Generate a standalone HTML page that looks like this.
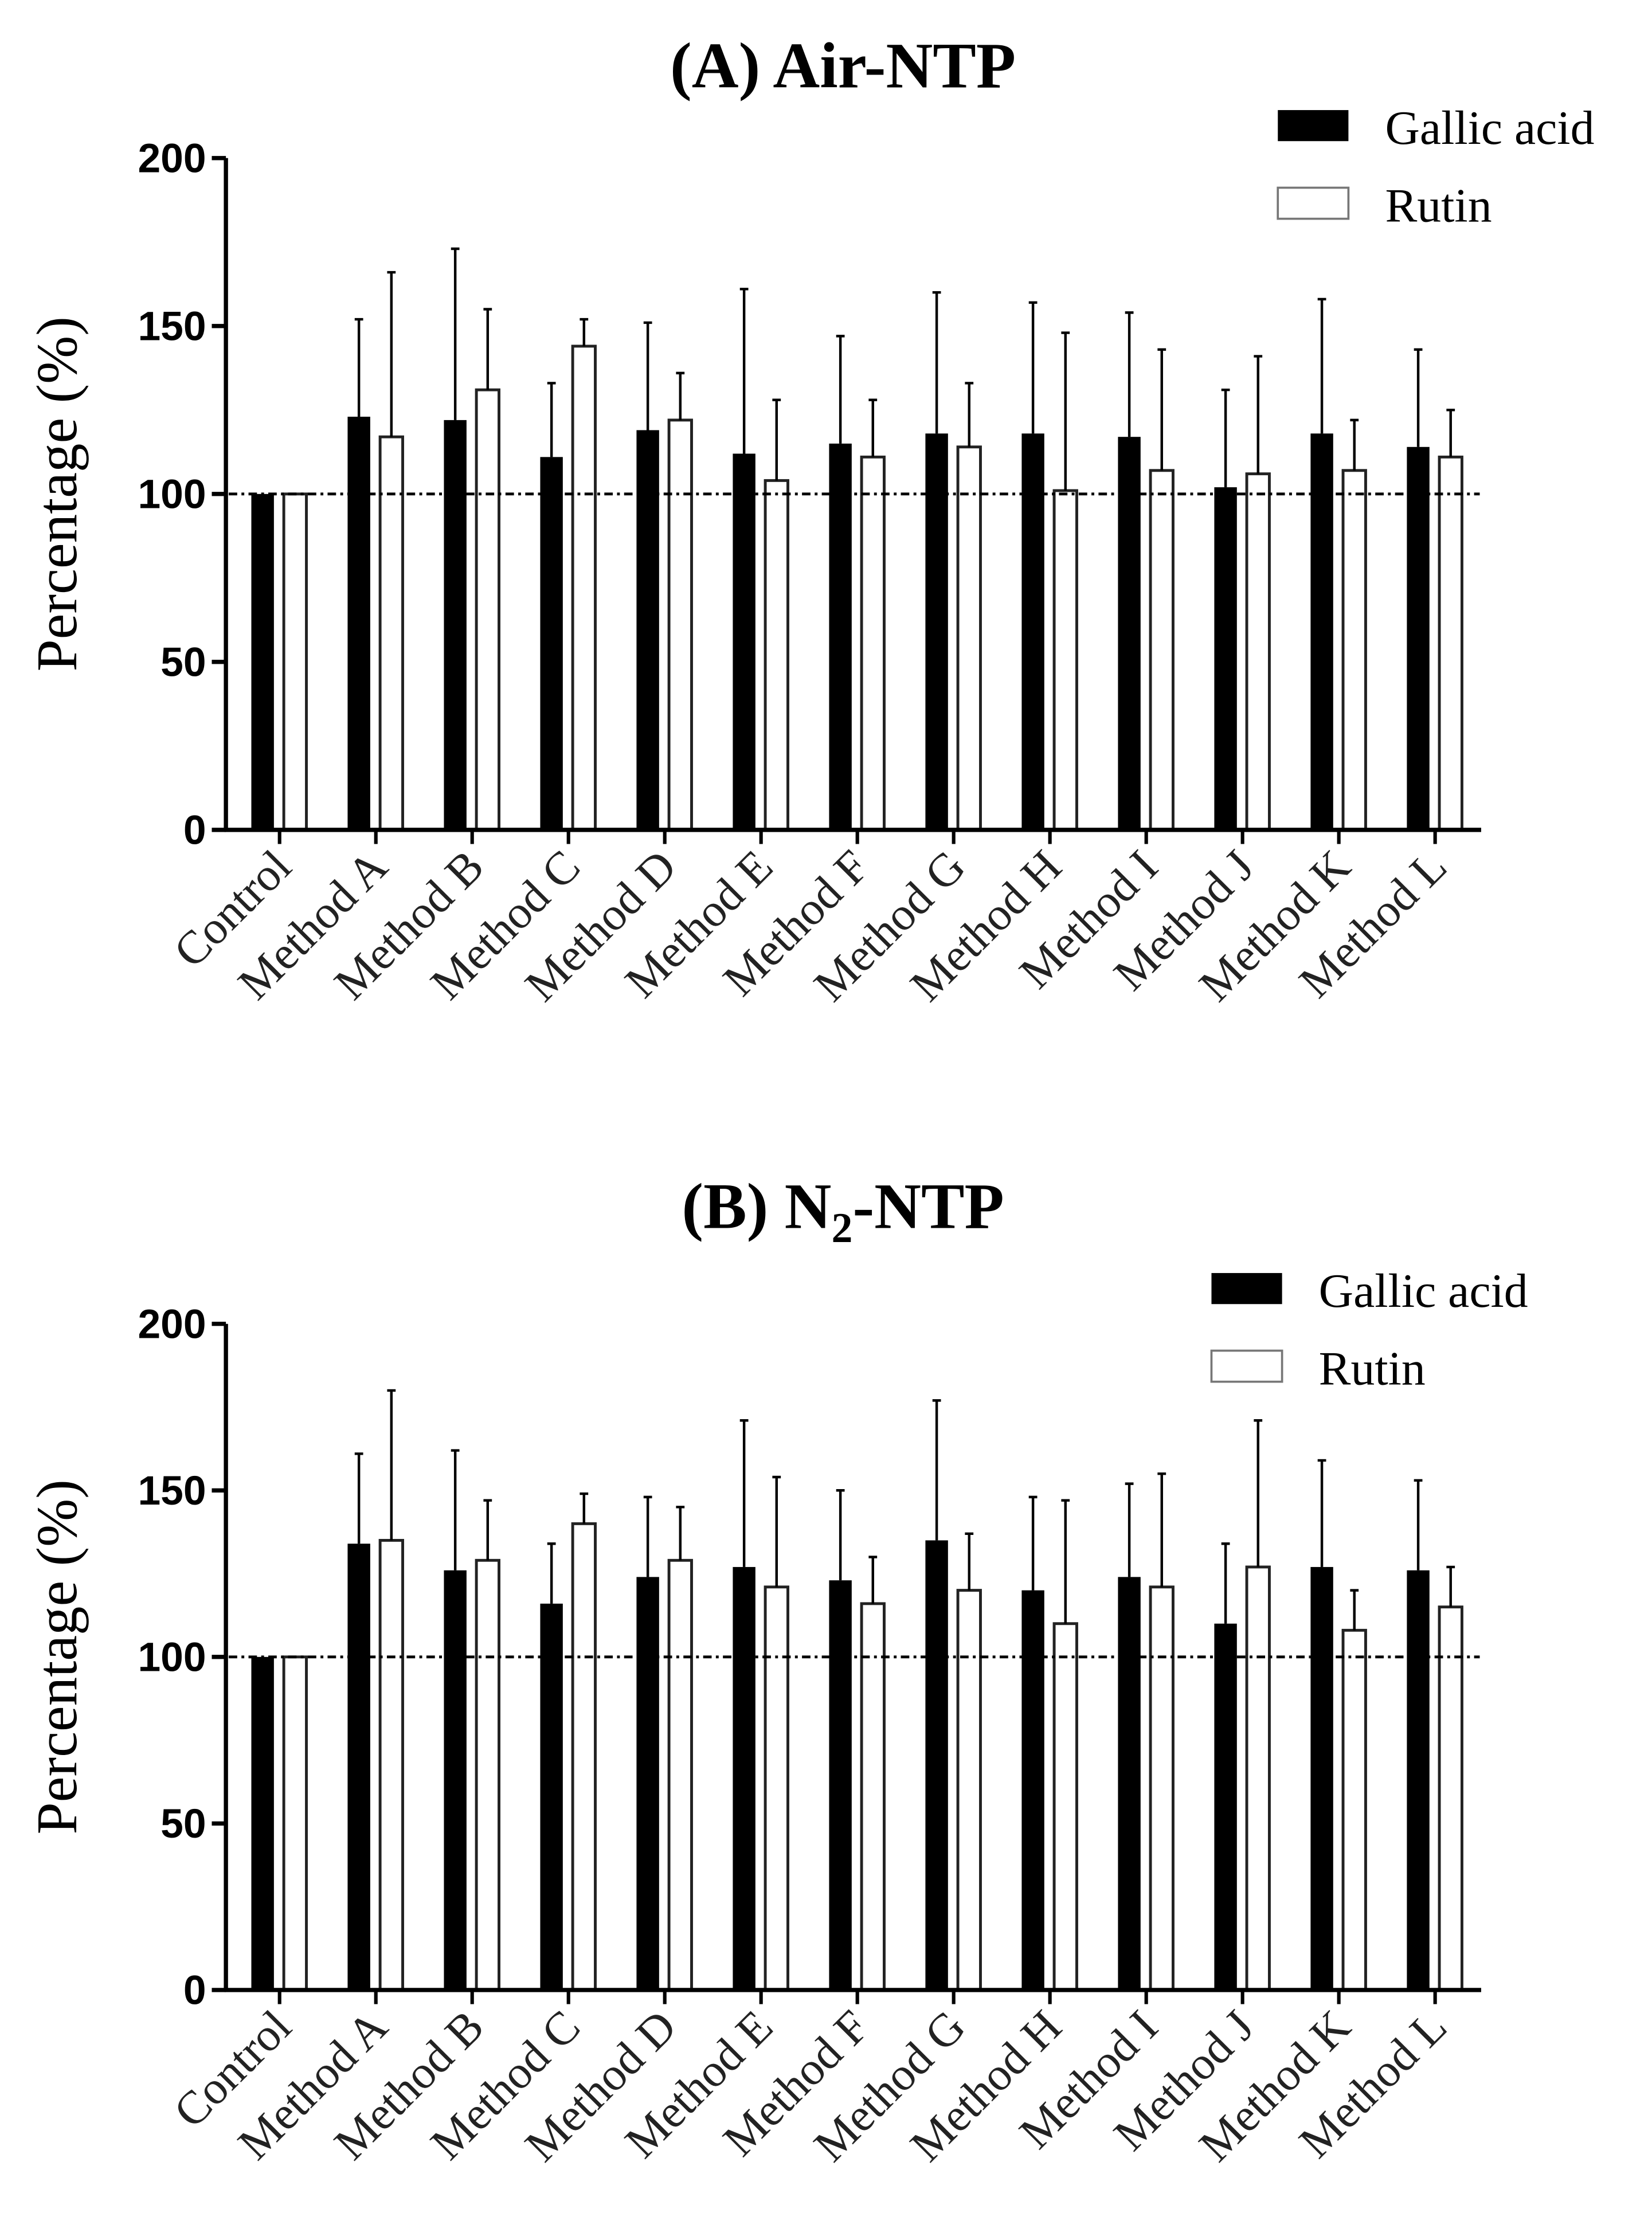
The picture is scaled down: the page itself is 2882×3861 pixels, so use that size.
<!DOCTYPE html>
<html><head><meta charset="utf-8"><style>
html,body{margin:0;padding:0;background:#fff}
svg{display:block}
text{font-family:"Liberation Serif",serif}
.tk{font-family:"Liberation Sans",sans-serif;font-weight:bold;font-size:29px}
</style></head><body>
<svg id="svg" width="2882" height="3861" viewBox="0 0 1170 1568" preserveAspectRatio="none" xmlns="http://www.w3.org/2000/svg"></svg>
<script>
const categories=["Control","Method A","Method B","Method C","Method D","Method E","Method F","Method G","Method H","Method I","Method J","Method K","Method L"];
const yTicks=[0,50,100,150,200];
const airGallic=[100,123,122,111,119,112,115,118,118,117,102,118,114];
const airGallicErr=[100,152,173,133,151,161,147,160,157,154,131,158,143];
const airRutin=[100,117,131,144,122,104,111,114,101,107,106,107,111];
const airRutinErr=[100,166,155,152,136,128,128,133,148,143,141,122,125];
const n2Gallic=[100,134,126,116,124,127,123,135,120,124,110,127,126];
const n2GallicErr=[100,161,162,134,148,171,150,177,148,152,134,159,153];
const n2Rutin=[100,135,129,140,129,121,116,120,110,121,127,108,115];
const n2RutinErr=[100,180,147,149,145,154,130,137,147,155,171,120,127];

const NS="http://www.w3.org/2000/svg";
const svg=document.getElementById('svg');
function mk(tag,attrs,parent){const e=document.createElementNS(NS,tag);for(const k in attrs)e.setAttribute(k,attrs[k]);(parent||svg).appendChild(e);return e;}

function panel(id,yTop,yBot,gal,galE,rut,rutE,titleY,legY,legX,titleParts){
  const g=mk('g',{});
  
  
  const yS=v=>yBot-(v/200)*(yBot-yTop);
  const xS=i=>198+i*68.2;
  const t=mk('text',{x:597,y:titleY,'text-anchor':'middle','font-size':46,'font-weight':'bold'},g);
  
  
  if(titleParts.length===1){t.textContent=titleParts[0];}
  else{t.appendChild(document.createTextNode(titleParts[0]));const s=mk('tspan',{'font-size':30,dy:10},t);s.textContent=titleParts[1];const s2=mk('tspan',{dy:-10},t);s2.textContent=titleParts[2];}
  const ya=mk('line',{x1:160,y1:yTop,x2:160,y2:yBot+1,stroke:'#000','stroke-width':3},g);
  
  
  yTicks.forEach(v=>{
    mk('line',{x1:150,x2:160,y1:yS(v),y2:yS(v),stroke:'#000','stroke-width':3},g);
    const l=mk('text',{x:146,y:yS(v)+10,'text-anchor':'end',class:'tk'},g);
    
    
    l.textContent=v;
  });
  const yt=mk('text',{x:0,y:0,'font-size':41,'text-anchor':'middle',transform:`translate(54,${(yTop+yBot)/2}) rotate(-90)`},g);
  
  
  yt.textContent='Percentage (%)';
  categories.forEach((c,i)=>{
    const x=xS(i);
    const b=mk('rect',{x:x-20,y:yS(gal[i]),width:16,height:yBot-yS(gal[i]),fill:'#000'},g);
    
    
    const r=mk('rect',{x:x+3,y:yS(rut[i]),width:16,height:yBot-yS(rut[i]),fill:'#fff',stroke:'#222','stroke-width':2},g);
    
    
    if(galE[i]>gal[i]){
      const e=mk('path',{d:`M${x-12} ${yS(gal[i])}V${yS(galE[i])}M${x-15} ${yS(galE[i])}H${x-9}`,stroke:'#000','stroke-width':1.8,fill:'none'},g);
      
      
    }
    if(rutE[i]>rut[i]){
      const e=mk('path',{d:`M${x+11} ${yS(rut[i])}V${yS(rutE[i])}M${x+8} ${yS(rutE[i])}H${x+14}`,stroke:'#000','stroke-width':1.8,fill:'none'},g);
      
      
    }
    mk('line',{x1:x,x2:x,y1:yBot,y2:yBot+10,stroke:'#000','stroke-width':2.5},g);
    const lab=mk('text',{x:0,y:0,'font-size':33,'text-anchor':'end',fill:'#222',transform:`translate(${x+10},${yBot+28}) rotate(-45)`},g);
    
    
    lab.textContent=c;
  });
  const rl=mk('line',{x1:162,x2:1048,y1:yS(100),y2:yS(100),stroke:'#000','stroke-width':2,'stroke-dasharray':'6 3 2 3'},g);
  
  
  const xa=mk('line',{x1:159,x2:1049,y1:yBot,y2:yBot,stroke:'#000','stroke-width':3},g);
  
  
  const l1=mk('rect',{x:legX,y:legY,width:50,height:22,fill:'#000'},g);
  
  
  const lt1=mk('text',{x:legX+76,y:legY+24,'font-size':34},g);
  
  
  lt1.textContent='Gallic acid';
  const l2=mk('rect',{x:legX,y:legY+55,width:50,height:22,fill:'#fff',stroke:'#777','stroke-width':1.5},g);
  
  
  const lt2=mk('text',{x:legX+76,y:legY+79,'font-size':34},g);
  
  
  lt2.textContent='Rutin';
}
panel('panel-a-air-ntp',112,588,airGallic,airGallicErr,airRutin,airRutinErr,62,78,905,['(A) Air-NTP']);
panel('panel-b-n2-ntp',938,1410,n2Gallic,n2GallicErr,n2Rutin,n2RutinErr,870,902,858,['(B) N','2','-NTP']);
</script>
</body></html>
